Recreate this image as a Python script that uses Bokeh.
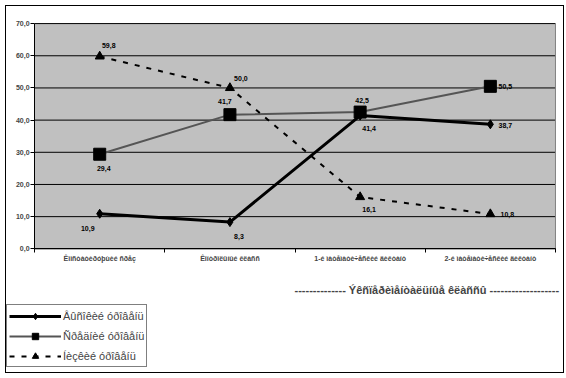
from bokeh.plotting import figure
from bokeh.models import (Range1d, FixedTicker, CustomJSTickFormatter, Legend,
                          LegendItem, Label, BoxAnnotation, ColumnDataSource)
from bokeh.embed import file_html
from bokeh.resources import INLINE
from bokeh.core.properties import value

categories = ["Êîíñòàòèðóþùèé ñðåç", "Êîíòðîëüíûé êëàññ",
              "1-é ìàòåìàòè÷åñêèé äèêòàíò", "2-é ìàòåìàòè÷åñêèé äèêòàíò"]
series_names = ["Âûñîêèé óðîâåíü", "Ñðåäíèé óðîâåíü", "Íèçêèé óðîâåíü"]
high = [10.9, 8.3, 41.4, 38.7]
medium = [29.4, 41.7, 42.5, 50.5]
low = [59.8, 50.0, 16.1, 10.8]
y_ticks = [0, 10, 20, 30, 40, 50, 60, 70]
title_text = "Ýêñïåðèìåíòàëüíûå êëàññû"

FONT = "Liberation Sans"
n = len(categories)
xs = [i + 0.5 for i in range(n)]
YMAX = y_ticks[-1]

# layout geometry (pixels inside the canvas)
CW, CH = 557, 366           # canvas inner size
PL, PR = 28, 547            # plot area left/right
PT, PB = 17, 241            # plot area top/bottom
sx = (PR - PL) / n
sy = (PB - PT) / YMAX
x_range = Range1d(-PL / sx, (CW - PL) / sx)
y_range = Range1d(-(CH - PB) / sy, PB / sy)

p = figure(width=559, height=368, output_backend="svg", toolbar_location=None,
           x_range=x_range, y_range=y_range,
           min_border=0, border_fill_color="white")
p.styles = {"position": "absolute", "left": "5px", "top": "5px",
            "border": "1px solid black", "box-sizing": "border-box"}
p.background_fill_color = "white"
p.outline_line_color = None
p.grid.visible = False

# plot-area background and grid
p.add_layout(BoxAnnotation(left=0, right=n, bottom=0, top=YMAX,
                           fill_color="#C0C0C0", fill_alpha=1,
                           line_color=None, level="image"))
p.segment(x0=[0] * len(y_ticks), x1=[n] * len(y_ticks), y0=y_ticks, y1=y_ticks,
          line_color="black", line_width=1)
p.segment(x0=[n], x1=[n], y0=[0], y1=[YMAX], line_color="#808080", line_width=1)

# y axis
p.yaxis.fixed_location = 0
p.yaxis.bounds = (0, YMAX)
p.yaxis.ticker = FixedTicker(ticks=y_ticks)
p.yaxis.formatter = CustomJSTickFormatter(code="return tick.toFixed(1).replace('.', ',');")
p.yaxis.major_label_text_font = FONT
p.yaxis.major_label_text_font_size = "7px"
p.yaxis.major_label_text_font_style = "bold"
p.yaxis.major_tick_out = 4
p.yaxis.major_tick_in = 0
p.yaxis.minor_tick_line_color = None
p.yaxis.major_label_standoff = 1
p.yaxis.axis_line_color = "black"

# x axis: labels at category centres, ticks at boundaries
p.xaxis.fixed_location = 0
p.xaxis.bounds = (0, n)
p.xaxis.ticker = FixedTicker(ticks=xs, minor_ticks=list(range(n + 1)))
p.xaxis.major_label_overrides = {x: c for x, c in zip(xs, categories)}
p.xaxis.major_tick_line_color = None
p.xaxis.minor_tick_out = 4
p.xaxis.minor_tick_in = 0
p.xaxis.minor_tick_line_color = "black"
p.xaxis.major_label_text_font = FONT
p.xaxis.major_label_text_font_size = "7px"
p.xaxis.major_label_text_font_style = "bold"
p.xaxis.major_label_standoff = 0
p.xaxis.axis_line_color = "black"

src = ColumnDataSource(dict(x=xs, high=high, medium=medium, low=low,
                            high_l=[f"{v:.1f}".replace(".", ",") for v in high],
                            medium_l=[f"{v:.1f}".replace(".", ",") for v in medium],
                            low_l=[f"{v:.1f}".replace(".", ",") for v in low]))

l1 = p.line("x", "high", source=src, line_color="black", line_width=3)
m1 = p.scatter("x", "high", source=src, marker="diamond", size=9, color="black")
l2 = p.line("x", "medium", source=src, line_color="#555555", line_width=2)
m2 = p.scatter("x", "medium", source=src, marker="square", size=12, color="black")
l3 = p.line("x", "low", source=src, line_color="black", line_width=2, line_dash="5 7")
m3 = p.scatter("x", "low", source=src, marker="triangle", size=9, color="black")

# data labels
offs = {
    "high": ([-12, 9, 9, 15], [15, 14, 13, 1]),
    "medium": ([4, -5, 2, 15], [14, -13, -12, 0]),
    "low": ([9, 11, 9, 17], [-11, -9, 12, 0]),
}
for key, (dx, dy) in offs.items():
    s = ColumnDataSource(dict(x=xs, y=src.data[key], t=src.data[key + "_l"],
                              dx=dx, dy=dy))
    p.text("x", "y", text="t", source=s, x_offset="dx", y_offset="dy",
           text_align="center", text_baseline="middle",
           text_font=value(FONT), text_font_size="7px", text_font_style="bold",
           text_color="black")

# caption text right of the legend
p.add_layout(Label(x=(287 - PL) / sx, y=-(282 - PB) / sy,
                   text="-" * 14 + " " + title_text + " " + "-" * 19,
                   text_font=FONT, text_font_size="11px", text_font_style="bold",
                   text_align="left", text_baseline="middle"))

legend = Legend(items=[
    LegendItem(label=series_names[0], renderers=[l1, m1]),
    LegendItem(label=series_names[1], renderers=[l2, m2]),
    LegendItem(label=series_names[2], renderers=[l3, m3]),
], location=(0, 7))
legend.border_line_color = "black"
legend.border_line_width = 1
legend.background_fill_color = "white"
legend.background_fill_alpha = 1
legend.label_text_font = FONT
legend.label_text_font_size = "11px"
legend.glyph_width = 52
legend.glyph_height = 16
legend.label_standoff = 2
legend.spacing = 3
legend.padding = 2
legend.margin = 0
legend.label_height = 17
p.add_layout(legend)

open("out.html", "w").write(file_html(p, INLINE))
